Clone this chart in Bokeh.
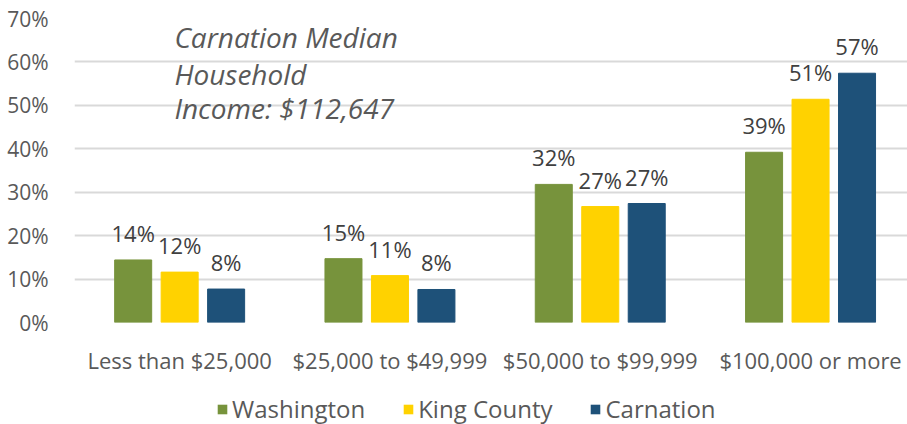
from bokeh.plotting import figure
from bokeh.layouts import column
from bokeh.models import (ColumnDataSource, Range1d, FixedTicker, PrintfTickFormatter,
                          Legend, LegendItem, Label)
from bokeh.core.properties import value
from bokeh.embed import file_html
from bokeh.resources import INLINE

categories = ["Less than $25,000", "$25,000 to $49,999", "$50,000 to $99,999", "$100,000 or more"]
series_names = ["Washington", "King County", "Carnation"]
washington = [14.4, 14.7, 31.8, 39.2]
king_county = [11.6, 10.8, 26.7, 51.4]
carnation = [7.7, 7.6, 27.4, 57.4]
y_ticks = [0, 10, 20, 30, 40, 50, 60, 70]
note_lines = ["Carnation Median", "Household", "Income: $112,647"]

colors = ["#77933C", "#FFD200", "#1E5179"]
FONT = "Open Sans"
TXT = "#595959"

p = figure(width=907, height=390, output_backend="svg", toolbar_location=None,
           x_range=Range1d(0, 3.961), y_range=Range1d(0, 70),
           min_border_left=74, min_border_right=0, min_border_top=18, min_border_bottom=68)
p.outline_line_color = None
p.background_fill_color = "white"
p.border_fill_color = "white"

step = 0.221
width = 0.176
for k, (name, vals) in enumerate(zip(series_names, [washington, king_county, carnation])):
    xs = [i + 0.5 + (k - 1) * step for i in range(len(categories))]
    src = ColumnDataSource(dict(x=xs, top=vals, lab=[f"{round(v)}%" for v in vals]))
    p.vbar(x="x", top="top", width=width, bottom=0, color=colors[k], source=src)
    p.text(x="x", y="top", text="lab", source=src, text_align="center",
           text_baseline="alphabetic", y_offset=-27, text_font=value(FONT),
           text_font_size="22px", text_color="#404040")

# axes
p.xaxis.ticker = FixedTicker(ticks=[i + 0.5 for i in range(len(categories))])
p.xaxis.major_label_overrides = {i + 0.5: c for i, c in enumerate(categories)}
p.xaxis.major_label_text_font = FONT
p.xaxis.major_label_text_font_size = "22px"
p.xaxis.major_label_text_color = TXT
p.xaxis.major_label_standoff = 16
p.xaxis.axis_line_color = None
p.xaxis.major_tick_line_color = None
p.xaxis.minor_tick_line_color = None

p.yaxis.ticker = FixedTicker(ticks=y_ticks)
p.yaxis.formatter = PrintfTickFormatter(format="%d%%")
p.yaxis.major_label_text_font = FONT
p.yaxis.major_label_text_font_size = "21px"
p.yaxis.major_label_text_color = TXT
p.yaxis.major_label_standoff = 20
p.yaxis.axis_line_color = None
p.yaxis.major_tick_line_color = None
p.yaxis.minor_tick_line_color = None

p.xgrid.grid_line_color = None
p.ygrid.ticker = FixedTicker(ticks=y_ticks)
p.ygrid.grid_line_color = "#D9D9D9"
p.ygrid.grid_line_width = 2
p.ygrid.bounds = (0, 65)

# annotation text
for j, line in enumerate(note_lines):
    p.add_layout(Label(x=0.475, y=[65.8, 57.3, 49.4][j], text=line, text_font=FONT,
                       text_font_style="italic", text_font_size="28px", text_color=TXT,
                       text_baseline="alphabetic"))

# legend strip (zero-height swatch renderers, nothing visible in the strip itself)
lg = figure(width=907, height=34, output_backend="svg", toolbar_location=None,
            x_range=Range1d(0, 1), y_range=Range1d(0, 1),
            min_border_left=0, min_border_right=0, min_border_top=0, min_border_bottom=0)
lg.outline_line_color = None
lg.axis.visible = False
lg.grid.visible = False
items = []
for k, name in enumerate(series_names):
    r = lg.vbar(x=[0.5], bottom=[0.5], top=[0.5], width=0.1,
                fill_color=colors[k], line_color=None)
    items.append(LegendItem(label=name, renderers=[r]))
legend = Legend(items=items, orientation="horizontal", location=(142, -1))
legend.label_text_font = FONT
legend.label_text_font_size = "24px"
legend.label_text_color = TXT
legend.glyph_width = 12
legend.glyph_height = 12
legend.label_standoff = 4
legend.spacing = 37
legend.padding = 0
legend.margin = 0
legend.border_line_color = None
legend.background_fill_alpha = 0
lg.add_layout(legend, "center")

layout = column(p, lg, spacing=0)
open("out.html", "w").write(file_html(layout, INLINE))
